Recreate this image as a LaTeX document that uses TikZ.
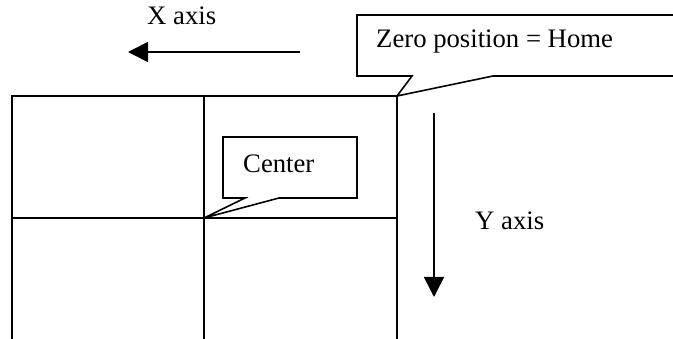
\documentclass[tikz,border=0pt]{standalone}
\usepackage{fontspec}
\setmainfont{Liberation Serif}
\usetikzlibrary{arrows.meta}
\begin{document}
\begin{tikzpicture}[x=1pt,y=-1pt,
  ln/.style={line width=1.6pt},
  lbl/.style={anchor=base west,inner sep=0pt,font=\fontsize{26.7}{32}\selectfont},
  axisarrow/.style={ln,-{Triangle[length=20pt,width=20pt]}}]
\useasboundingbox (0,0) rectangle (673,339);
% grid
\coordinate (gtl) at (12,96);
\coordinate (gtr) at (397,96);
\coordinate (gtm) at (204,96);
\coordinate (gbl) at (12,340);
\coordinate (gbm) at (204,340);
\coordinate (gbr) at (397,340);
\coordinate (gml) at (12,218);
\coordinate (gmr) at (397,218);
\coordinate (gc) at (204,218);
\draw[ln] (gbl) -- (gtl) -- (gtr) -- (gbr);
\draw[ln] (gtm) -- (gbm);
\draw[ln] (gml) -- (gmr);
% zero callout
\draw[ln,fill=white] (690,15) -- (357,15) -- (357,76) -- (412,76) -- (gtr) -- (493,76) -- (690,76);
\node[lbl] (zero) at (376,48) {Zero position = Home};
% center callout
\draw[ln,fill=white] (245,198) -- (223,198) -- (223,137) -- (357,137) -- (357,198) -- (279,198) -- (gc) -- cycle;
\node[lbl] (center) at (243,173) {Center};
% X axis
\node[lbl] (xlab) at (147,25) {X axis};
\coordinate (xs) at (300,52);
\coordinate (xe) at (128,52);
\draw[axisarrow] (xs) -- (xe);
% Y axis
\node[lbl] (ylab) at (475,230) {Y axis};
\coordinate (ys) at (434,113);
\coordinate (ye) at (434,297);
\draw[axisarrow] (ys) -- (ye);
\end{tikzpicture}
\end{document}
